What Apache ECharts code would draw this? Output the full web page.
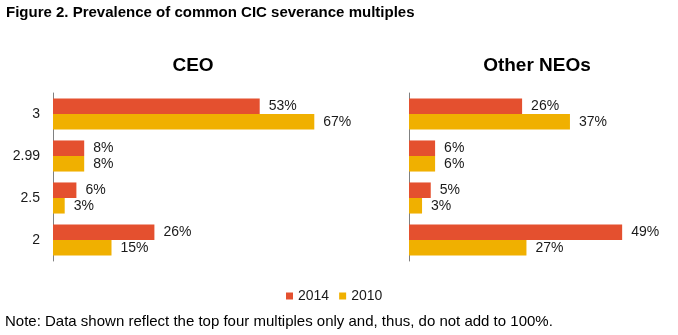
<!DOCTYPE html>
<html>
<head>
<meta charset="utf-8">
<script src="https://cdn.jsdelivr.net/npm/echarts@6/dist/echarts.min.js"></script>
<style>
html,body{margin:0;padding:0;background:#fff;}
#chart{width:678px;height:335px;}
</style>
</head>
<body>
<div id="chart"></div>
<script>
var categories = ['3', '2.99', '2.5', '2'];
var seriesNames = ['2014', '2010'];
var ceo2014 = [53, 8, 6, 26];
var ceo2010 = [67, 8, 3, 15];
var neo2014 = [26, 6, 5, 49];
var neo2010 = [37, 6, 3, 27];
var panelTitles = ['CEO', 'Other NEOs'];
var figureTitle = 'Figure 2. Prevalence of common CIC severance multiples';
var noteText = 'Note: Data shown reflect the top four multiples only and, thus, do not add to 100%.';

var FONT = '"Liberation Sans", Arial, sans-serif';
var RED = '#E4502F';
var YEL = '#F0B000';
var TXT = '#1a1a1a';

var chart = echarts.init(document.getElementById('chart'), null, {renderer: 'canvas'});

function barSeries(name, data, idx, color) {
  return {
    name: name,
    type: 'bar',
    xAxisIndex: idx,
    yAxisIndex: idx,
    data: data,
    barGap: '0%',
    barCategoryGap: '26%',
    itemStyle: {color: color},
    label: {
      show: true,
      position: 'right',
      distance: 9,
      formatter: '{c}%',
      fontFamily: FONT,
      fontSize: 14,
      color: TXT
    },
    emphasis: {disabled: true},
    animation: false
  };
}

function yAxis(idx) {
  return {
    type: 'category',
    gridIndex: idx,
    data: categories,
    inverse: true,
    axisLine: {show: true, lineStyle: {color: '#808080', width: 1}},
    axisTick: {show: false},
    axisLabel: {show: idx === 0, margin: 13, fontFamily: FONT, fontSize: 14, color: TXT},
    splitLine: {show: false}
  };
}

function xAxis(idx, max) {
  return {
    type: 'value',
    gridIndex: idx,
    min: 0,
    max: max,
    show: false
  };
}

var option = {
  backgroundColor: '#ffffff',
  animation: false,
  grid: [
    {left: 53, top: 93, width: 273, height: 168},
    {left: 409, top: 93, width: 261, height: 168}
  ],
  xAxis: [xAxis(0, 70), xAxis(1, 60)],
  yAxis: [yAxis(0), yAxis(1)],
  legend: {
    data: seriesNames,
    left: 286,
    top: 289,
    padding: 0,
    itemWidth: 7,
    itemHeight: 7,
    itemGap: 10,
    icon: 'rect',
    textStyle: {fontFamily: FONT, fontSize: 14, color: TXT},
    selectedMode: false
  },
  series: [
    barSeries(seriesNames[0], ceo2014, 0, RED),
    barSeries(seriesNames[1], ceo2010, 0, YEL),
    barSeries(seriesNames[0], neo2014, 1, RED),
    barSeries(seriesNames[1], neo2010, 1, YEL)
  ],
  graphic: [
    {type: 'text', left: 6, top: 5, style: {text: figureTitle, font: 'bold 15px ' + FONT, fill: '#000'}},
    {type: 'text', x: 193, y: 66, style: {text: panelTitles[0], font: 'bold 19px ' + FONT, fill: '#000', align: 'center', verticalAlign: 'middle'}},
    {type: 'text', x: 537, y: 66, style: {text: panelTitles[1], font: 'bold 19px ' + FONT, fill: '#000', align: 'center', verticalAlign: 'middle'}},
    {type: 'text', left: 5, top: 314, style: {text: noteText, font: '15px ' + FONT, fill: '#000'}}
  ]
};
chart.setOption(option);
</script>
</body>
</html>
